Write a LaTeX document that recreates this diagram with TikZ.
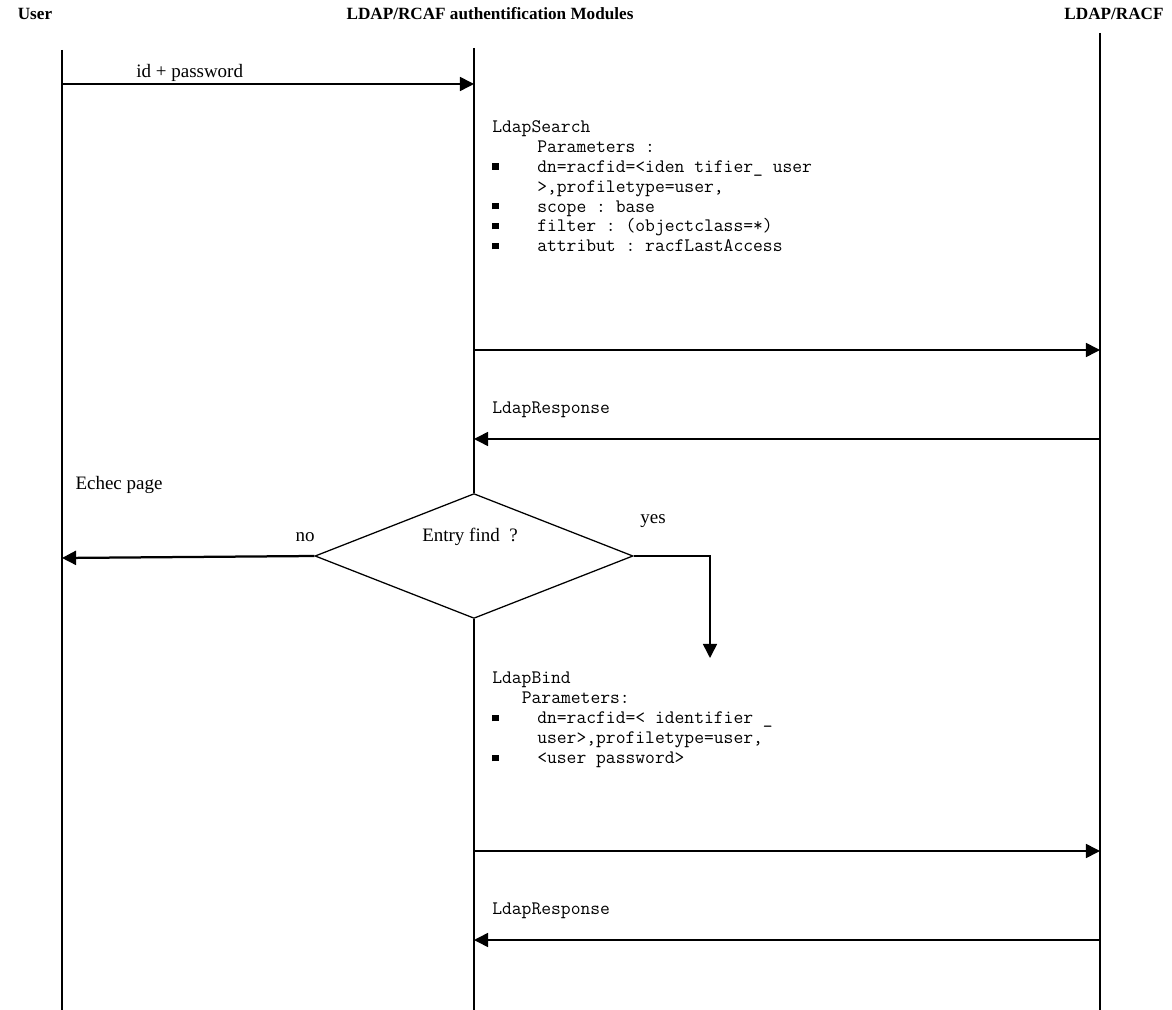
\documentclass[tikz,border=0pt]{standalone}
\usepackage{fontspec}
\setmainfont{Liberation Serif}
\usetikzlibrary{arrows.meta,shapes.geometric}

\newcommand{\sqbul}{\makebox[32pt][l]{\rule[1.8pt]{4.8pt}{4.8pt}}}
\newcommand{\ind}[1]{\hspace*{#1}}

\begin{document}
\frenchspacing
\begin{tikzpicture}[x=0.025cm,y=-0.025cm,
    life/.style={line width=0.9pt},
    msg/.style={line width=1.1pt,-{Triangle[length=10pt,width=10pt]}},
    head/.style={font=\bfseries\fontsize{12.2}{14}\selectfont},
    lbl/.style={font=\fontsize{13.5}{16}\selectfont},
    code/.style={font=\ttfamily\fontsize{13.55}{14.2}\selectfont,align=left,anchor=north west,inner sep=0pt}]

    \useasboundingbox (0,0) rectangle (1172,1010);

    % headers
    \node[head] (huser) at (35,14) {User};
    \node[head] (hmod) at (490,14) {LDAP/RCAF authentification Modules};
    \node[head] (hracf) at (1114,14) {LDAP/RACF};

    % decision
    \node[diamond,draw,line width=0.9pt,minimum width=7.95cm,minimum height=3.12cm,inner sep=0pt] (dec) at (474,556) {};
    \node[lbl] (qfind) at (470,537) {Entry find\ \ ?};
    \node[lbl] (no) at (305,537) {no};
    \node[lbl] (yes) at (653,521) {yes};
    \node[lbl] (echec) at (119,485) {Echec page};

    % lifelines
    \coordinate (u0) at (62,50);
    \coordinate (u1) at (62,1010);
    \coordinate (m0) at (474,48);
    \coordinate (m1) at (474,1010);
    \coordinate (r0) at (1100,33);
    \coordinate (r1) at (1100,1010);
    \draw[life] (u0) -- (u1);
    \draw[life] (m0) -- (dec.north);
    \draw[life] (dec.south) -- (m1);
    \draw[life] (r0) -- (r1);

    % messages
    \coordinate (login-u) at (62,84);
    \coordinate (login-m) at (474,84);
    \coordinate (search-m) at (474,350);
    \coordinate (search-r) at (1100,350);
    \coordinate (resp-r) at (1100,439);
    \coordinate (resp-m) at (474,439);
    \coordinate (fail-u) at (62,558);
    \coordinate (yes-end) at (710,658);
    \coordinate (bind-m) at (474,851);
    \coordinate (bind-r) at (1100,851);
    \coordinate (resp2-r) at (1100,940);
    \coordinate (resp2-m) at (474,940);

    \draw[msg] (login-u) to node[lbl,above,pos=0.31,inner sep=1pt] {id + password} (login-m);
    \draw[msg] (search-m) to (search-r);
    \draw[msg] (resp-r) to (resp-m);
    \draw[msg,line width=1.6pt] (dec.west) to (fail-u);
    \draw[msg] (dec.east) -| (yes-end);
    \draw[msg] (bind-m) to (bind-r);
    \draw[msg] (resp2-r) to (resp2-m);

    % request texts
    \node[code] (search) at (492,120) {LdapSearch\\
        \ind{32pt}Parameters :\\
        \sqbul dn=racfid=<iden tifier\_ user\\
        \ind{32pt}>,profiletype=user,\\
        \sqbul scope : base\\
        \sqbul filter : (objectclass=*)\\
        \sqbul attribut : racfLastAccess};
    \node[code] (resp) at (492,402) {LdapResponse};
    \node[code] (bind) at (492,672) {LdapBind\\
        \ind{21pt}Parameters:\\
        \sqbul dn=racfid=< identifier \_\\
        \ind{32pt}user>,profiletype=user,\\
        \sqbul <user password>};
    \node[code] (resp2) at (492,903) {LdapResponse};

\end{tikzpicture}
\end{document}
